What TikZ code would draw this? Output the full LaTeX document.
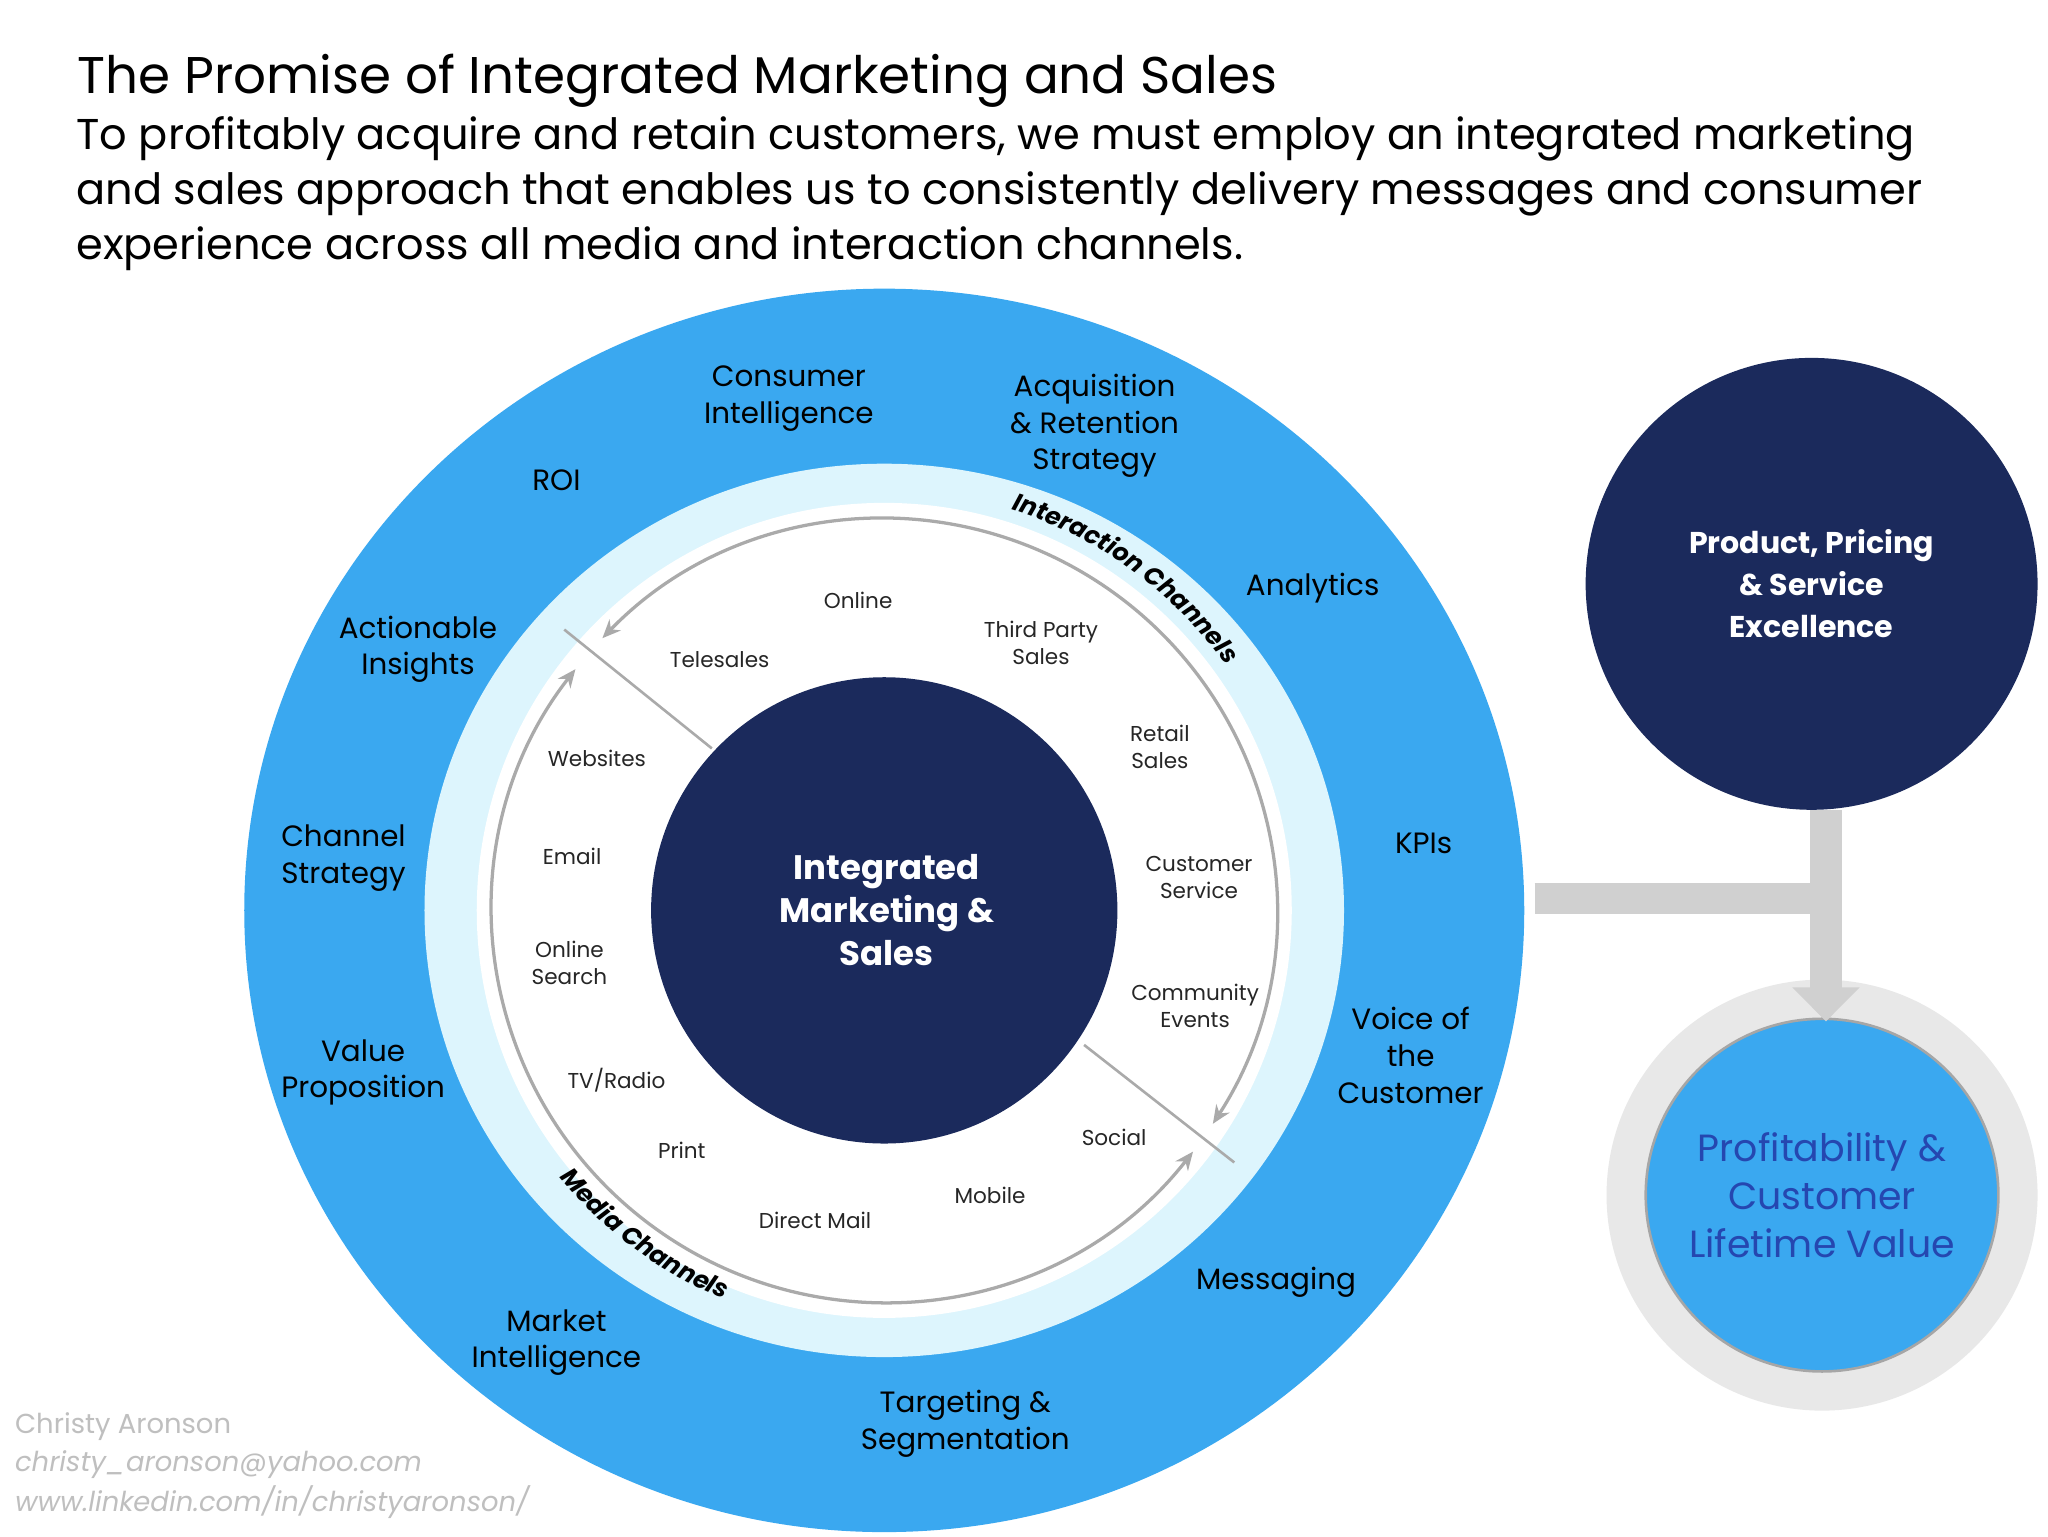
\documentclass[tikz,border=0pt]{standalone}
\usepackage{fontspec}
\setmainfont{Poppins}
\usetikzlibrary{decorations.text,arrows.meta}
\definecolor{bblue}{HTML}{3AA8F0}
\definecolor{lring}{HTML}{DDF5FD}
\definecolor{navy}{HTML}{1B2A5C}
\definecolor{gline}{HTML}{AAAAAA}
\definecolor{gbar}{HTML}{D0D0D0}
\definecolor{ptxt}{HTML}{2547B0}
\begin{document}
\begin{tikzpicture}[x=1pt,y=-1pt,
  outer/.style={align=center,font=\fontsize{22.5}{28}\selectfont,text=black},
  inner/.style={align=center,font=\fontsize{16.5}{21}\selectfont,text=black!85},
  foot/.style={anchor=west,font=\fontsize{21}{25}\selectfont\itshape,text=black!25},
  arcline/.style={gline,line width=2.5pt,{Stealth[length=14pt,width=12pt,open]}-{Stealth[length=14pt,width=12pt,open]}}]
\useasboundingbox[fill=white] (0,0) rectangle (1568,1176);
\coordinate (cc) at (677,697);
\node[circle,fill=navy,minimum size=346pt,inner sep=0] (prod) at (1387,447) {};
\node[circle,fill=black!9,minimum size=330pt,inner sep=0] (pring) at (1395,915) {};
\node[circle,fill=bblue,draw=black!35,line width=2pt,minimum size=270pt,inner sep=0] (prof) at (1395,915) {};
\coordinate (jn) at (1398,688);
\draw[gbar,line width=24pt] (1175,688) -- (jn);
\draw[gbar,line width=24pt,-{Triangle[length=26pt,width=50pt]}] (prod.south -| jn) -- (1398,782);
\fill[bblue] (cc) ellipse [x radius=490,y radius=476];
\fill[lring] (cc) ellipse [x radius=352,y radius=342];
\fill[white] (cc) circle (312);
\draw[gline,line width=2pt] (432,482) -- (545,573);
\draw[gline,line width=2pt] (830,800) -- (945,890);
\draw[arcline] ([shift={(33:300)}]cc) arc[start angle=33,end angle=-136,radius=300];
\draw[arcline] ([shift={(-142:300)}]cc) arc[start angle=-142,end angle=-322,radius=300];
\path[decorate,decoration={text along path,text align=center,text={|\fontsize{19}{20}\selectfont\bfseries\itshape|Interaction Channels}}] ([shift={(-78:322)}]cc) arc[start angle=-78,end angle=-30,radius=322];
\path[decorate,decoration={text along path,text align=center,text={|\fontsize{19}{20}\selectfont\bfseries\itshape|Media Channels}}] ([shift={(-215:322)}]cc) arc[start angle=-215,end angle=-252,radius=322];
\node[circle,fill=navy,minimum size=357pt,inner sep=0] (core) at (cc) {};
\node[align=center,text=white,font=\fontsize{26}{33}\selectfont\bfseries] (coret) at (679,697) {Integrated\\Marketing \&\\Sales};
\node[align=center,text=white,font=\fontsize{23}{32}\selectfont\bfseries] (prodt) at (prod) {Product, Pricing\\\& Service\\Excellence};
\node[align=center,text=ptxt,font=\fontsize{29}{37}\selectfont] (proft) at (prof) {Profitability \&\\Customer\\Lifetime Value};
\node[outer] (o1) at (604,305) {Consumer\\Intelligence};
\node[outer] (o2) at (838,326) {Acquisition\\\& Retention\\Strategy};
\node[outer] (o3) at (426,368) {ROI};
\node[outer] (o4) at (1005,450) {Analytics};
\node[outer] (o5) at (320,497) {Actionable\\Insights};
\node[outer] (o6) at (1090,646) {KPIs};
\node[outer] (o7) at (263,657) {Channel\\Strategy};
\node[outer] (o8) at (1080,808) {Voice of\\the\\Customer};
\node[outer] (o9) at (278,821) {Value\\Proposition};
\node[outer] (o10) at (977,982) {Messaging};
\node[outer] (o11) at (426,1028) {Market\\Intelligence};
\node[outer] (o12) at (739,1090) {Targeting \&\\Segmentation};
\node[inner] (i1) at (657,460) {Online};
\node[inner] (i2) at (551,505) {Telesales};
\node[inner] (i3) at (797,492) {Third Party\\Sales};
\node[inner] (i4) at (457,581) {Websites};
\node[inner] (i5) at (888,572) {Retail\\Sales};
\node[inner] (i6) at (438,656) {Email};
\node[inner] (i7) at (918,672) {Customer\\Service};
\node[inner] (i8) at (436,737) {Online\\Search};
\node[inner] (i9) at (915,770) {Community\\Events};
\node[inner] (i10) at (472,827) {TV/Radio};
\node[inner] (i11) at (853,871) {Social};
\node[inner] (i12) at (522,881) {Print};
\node[inner] (i13) at (758,915) {Mobile};
\node[inner] (i14) at (624,934) {Direct Mail};
\node[anchor=west,font=\fontsize{39.5}{44}\selectfont] (title) at (56,62) {The Promise of Integrated Marketing and Sales};
\node[anchor=north west,align=left,font=\fontsize{33}{42}\selectfont] (sub) at (55,86) {To profitably acquire and retain customers, we must employ an integrated marketing\\and sales approach that enables us to consistently delivery messages and consumer\\experience across all media and interaction channels.};
\node[foot,font=\fontsize{21}{25}\selectfont] (f1) at (8,1092) {Christy Aronson};
\node[foot] (f2) at (8,1121) {christy\_aronson@yahoo.com};
\node[foot] (f3) at (8,1150) {www.linkedin.com/in/christyaronson/};
\end{tikzpicture}
\end{document}
